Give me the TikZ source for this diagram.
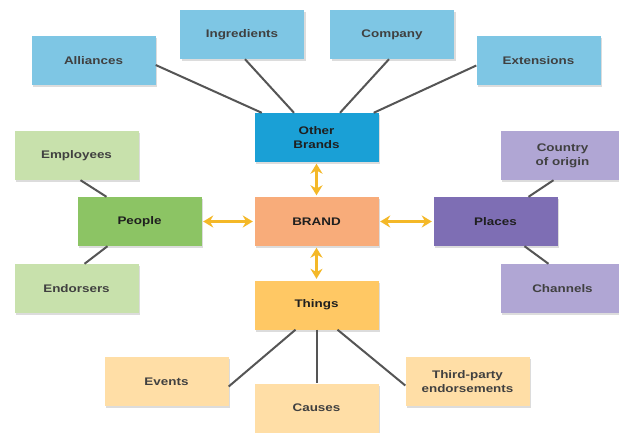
\documentclass[tikz,border=0pt]{standalone}
\usepackage{fontspec}
\setsansfont{Liberation Sans}[FakeStretch=1.22]
\usetikzlibrary{
  arrows.meta,
  shadows,
}
\definecolor{skylt}{RGB}{126,198,228}
\definecolor{skydk}{RGB}{26,160,214}
\definecolor{leaflt}{RGB}{200,225,172}
\definecolor{leafdk}{RGB}{140,196,100}
\definecolor{salmon}{RGB}{248,172,122}
\definecolor{plumlt}{RGB}{176,166,212}
\definecolor{plumdk}{RGB}{126,110,180}
\definecolor{sunlt}{RGB}{255,222,166}
\definecolor{sundk}{RGB}{255,200,100}
\definecolor{arrowgold}{RGB}{244,184,40}
\definecolor{wire}{RGB}{85,85,85}

\begin{document}
\begin{tikzpicture}[
  x=1pt, y=-1pt,
  font=\sffamily\bfseries\fontsize{11}{14}\selectfont,
  box/.style={
     rectangle,
     minimum width=124pt,
     minimum height=49pt,
     align=center,
     inner sep=2pt,
     drop shadow={shadow xshift=1.5pt,shadow yshift=-2pt,opacity=.3,fill=black!45},
  },
  leaf/.style={box,text=black!75},
  hub/.style={box,text=black!88},
  link/.style={draw=wire,line width=2pt},
  twoway/.style={draw=arrowgold,line width=2.8pt,
     {Stealth[length=10pt,width=12pt]}-{Stealth[length=10pt,width=12pt]},
     shorten <=1.5pt,shorten >=1.5pt},
]
   \useasboundingbox[fill=white] (0,0) rectangle (619,432);

   % other brands
   \node[leaf,fill=skylt] (alliances) at (93.5,60.5) {Alliances};
   \node[leaf,fill=skylt] (ingred) at (242,34.5) {Ingredients};
   \node[leaf,fill=skylt] (company) at (392,34.5) {Company};
   \node[leaf,fill=skylt] (extens) at (538.5,60.5) {Extensions};
   \node[hub,fill=skydk] (others) at (316.5,137.5) {Other\\Brands};

   % people
   \node[leaf,fill=leaflt] (employ) at (76.5,155.5) {Employees};
   \node[hub,fill=leafdk] (people) at (139.5,221.5) {People};
   \node[leaf,fill=leaflt] (endors) at (76.5,288.5) {Endorsers};

   % places
   \node[leaf,fill=plumlt] (country) at (562.5,155.5) {Country\\of origin};
   \node[hub,fill=plumdk] (places) at (495.5,221.5) {Places};
   \node[leaf,fill=plumlt] (channels) at (562.5,288.5) {Channels};

   % things
   \node[hub,fill=sundk] (things) at (316.5,305) {Things};
   \node[leaf,fill=sunlt] (events) at (166.5,381.5) {Events};
   \node[leaf,fill=sunlt] (causes) at (316.5,408) {Causes};
   \node[leaf,fill=sunlt] (thirdp) at (467.5,381.5) {Third-party\\endorsements};

   \node[hub,fill=salmon] (brand) at (316.5,221.5) {BRAND};

   \draw[link] ([yshift=-4.5pt]alliances.east) -- ([xshift=7.5pt]others.north west);
   \draw[link] ([xshift=3pt]ingred.south) -- ([xshift=-22.5pt]others.north);
   \draw[link] ([xshift=-3pt]company.south) -- ([xshift=23.5pt]others.north);
   \draw[link] ([yshift=-5pt]extens.west) -- ([xshift=-5pt]others.north east);
   \draw[link] ([xshift=4pt]employ.south) -- ([xshift=-33pt]people.north);
   \draw[link] ([xshift=-32pt]people.south) -- ([xshift=8pt]endors.north);
   \draw[link] ([xshift=33pt]places.north) -- ([xshift=-9pt]country.south);
   \draw[link] ([xshift=29pt]places.south) -- ([xshift=-14pt]channels.north);
   \draw[link] ([yshift=-5pt]events.east) -- ([xshift=-21pt]things.south);
   \draw[link] (things.south) -- (causes.north);
   \draw[link] ([xshift=21pt]things.south) -- ([yshift=-4pt]thirdp.west);

   \draw[twoway] (others) -- (brand);
   \draw[twoway] (people) -- (brand);
   \draw[twoway] (brand) -- (places);
   \draw[twoway] (brand) -- (things);
\end{tikzpicture}
\end{document}
